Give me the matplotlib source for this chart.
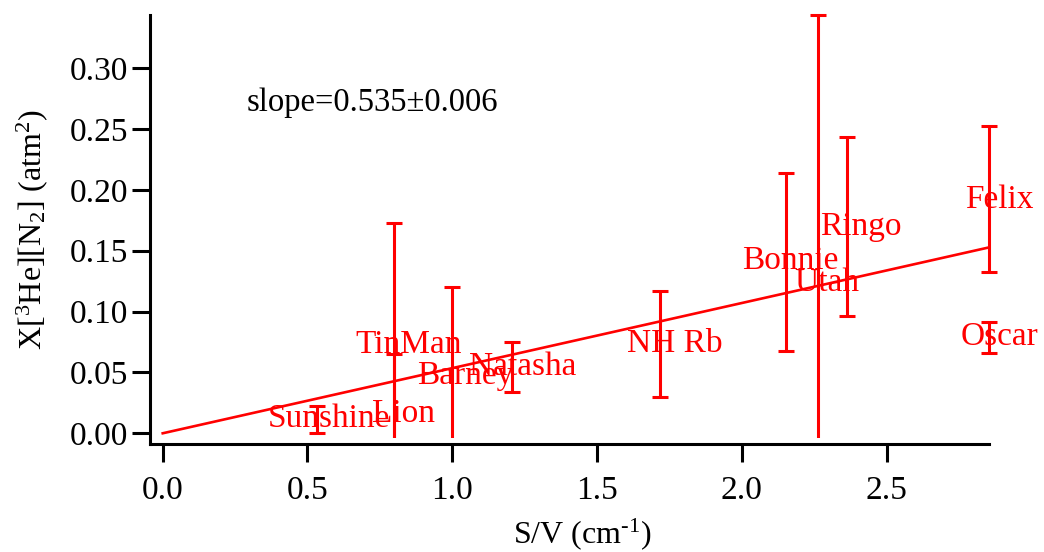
import matplotlib
matplotlib.use("Agg")
import matplotlib.pyplot as plt
from matplotlib.patches import Rectangle

# Cell measurements: surface-to-volume ratio vs. X[3He][N2]
cells = ["Sunshine", "TinMan", "Lion", "Barney", "Natasha", "NH Rb",
         "Bonnie", "Utah", "Ringo", "Felix", "Oscar"]
sv = [0.532, 0.799, 0.799, 1.000, 1.205, 1.717, 2.152, 2.264, 2.362, 2.854, 2.854]
xval = [0.0113, 0.075, 0.0167, 0.049, 0.0547, 0.0732, 0.1406, 0.125, 0.170, 0.1926, 0.0787]
xerr = [0.0111, 0.0976, 0.0485, 0.0708, 0.0205, 0.0437, 0.0730, 0.2186, 0.0737, 0.0602, 0.013]

# Label anchor points (data coordinates)
label_x = [0.574, 0.850, 0.833, 1.044, 1.244, 1.769, 2.166, 2.292, 2.411, 2.891, 2.891]
label_y = [0.0054, 0.066, 0.0095, 0.0405, 0.048, 0.0668, 0.135, 0.117, 0.163, 0.185, 0.0726]

# Linear fit through the origin; slope quoted in units of 0.1 atm^2 cm
fit_slope = 0.535
fit_err = 0.006
fit_unit = 0.1

x_ticks = [0.0, 0.5, 1.0, 1.5, 2.0, 2.5]
y_ticks = [0.00, 0.05, 0.10, 0.15, 0.20, 0.25, 0.30]

plt.rcParams["font.family"] = ["Liberation Serif", "DejaVu Serif"]
plt.rcParams["mathtext.fontset"] = "custom"
plt.rcParams["mathtext.rm"] = "Liberation Serif"
plt.rcParams["mathtext.it"] = "Liberation Serif:italic"

RED = "#ff0000"

fig = plt.figure(figsize=(10.44, 5.52), dpi=100)
ax = fig.add_axes([150 / 1044, 1 - 444 / 552, (989 - 150) / 1044, (444 - 15) / 552])

top = max(v + e for v, e in zip(xval, xerr))
ax.set_xlim(-0.0439, max(sv))
ax.set_ylim(-0.0088, top)

eb = ax.errorbar(sv, xval, yerr=xerr, fmt="none", ecolor=RED, elinewidth=2.2,
                 capsize=6, capthick=2.2, zorder=3)
# bars stop slightly above the bottom axis line, but may poke past the right end
clip = Rectangle((-0.05, 6 / 429), 1.1, 1.05 - 6 / 429, transform=ax.transAxes,
                 facecolor="none", edgecolor="none")
ax.add_patch(clip)
for art in eb.lines[1] + eb.lines[2]:
    art.set_clip_path(clip)

xs = [0.0, max(sv)]
ax.plot(xs, [fit_slope * fit_unit * v for v in xs], color=RED, lw=1.9, zorder=3)

for name, lx, ly in zip(cells, label_x, label_y):
    ax.text(lx, ly, name, color=RED, fontsize=24, ha="center", va="baseline",
            zorder=4, clip_on=False)

ax.text(0.29, 0.265, f"slope={fit_slope:.3f}\u00b1{fit_err:.3f}", fontsize=23.5,
        ha="left", va="baseline", color="black")

ax.set_xticks(x_ticks)
ax.set_xticklabels([f"{t:.1f}" for t in x_ticks])
ax.set_yticks(y_ticks)
ax.set_yticklabels([f"{t:.2f}" for t in y_ticks])

for s in ("top", "right"):
    ax.spines[s].set_visible(False)
for s in ("left", "bottom"):
    ax.spines[s].set_linewidth(2.2)
ax.tick_params(axis="both", width=2.2, length=13, labelsize=24, color="black")
ax.tick_params(axis="x", pad=10)
ax.tick_params(axis="y", pad=3)

ax.set_xlabel("S/V (cm$^{\\mathregular{\u2010}\\mathregular{1}}$)", fontsize=23)
ax.xaxis.set_label_coords(0.515, -0.168)
ax.set_ylabel(r"X[$^{\mathregular{3}}$He][N$_{\mathregular{2}}$] (atm$^{\mathregular{2}}$)",
              fontsize=23, labelpad=14)

fig.savefig("out.png", dpi=100)
